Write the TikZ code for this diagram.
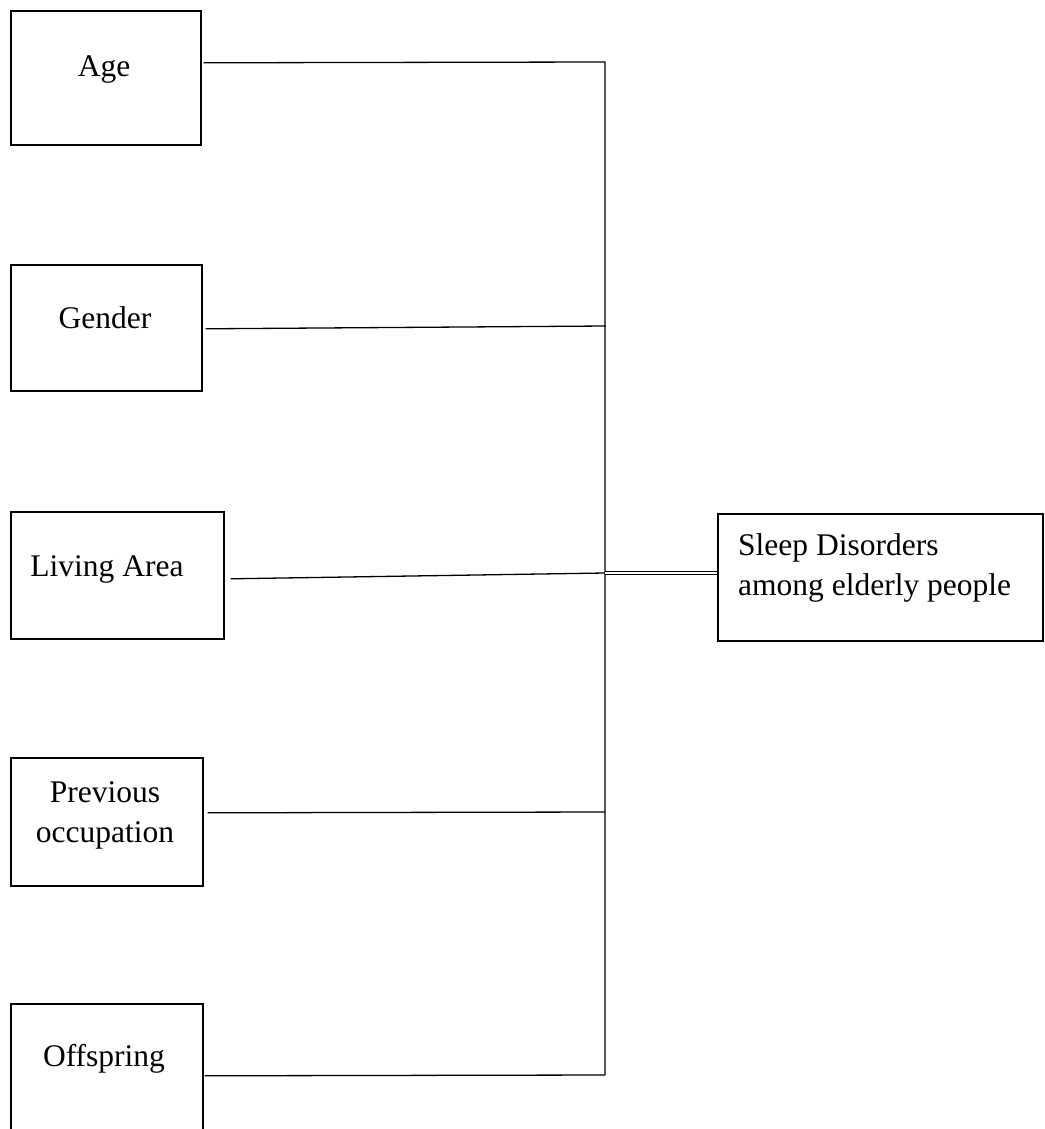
\documentclass[tikz,border=0pt]{standalone}
\usepackage{fontspec}
\setmainfont{Liberation Serif}
\usetikzlibrary{calc}
\begin{document}
\begin{tikzpicture}[x=1pt,y=-1pt,
  box/.style={draw,line width=1.6pt,rectangle,inner sep=0pt,anchor=north west},
  lbl/.style={font=\fontsize{31.5}{40}\selectfont,inner sep=0pt,anchor=base},
  conn/.style={line width=1.3pt}]
\useasboundingbox (0,0) rectangle (1044,1129);
% boxes
\node[box,minimum width=190pt,minimum height=134pt] (age) at (10,10) {};
\node[box,minimum width=191pt,minimum height=126pt] (gender) at (10,264) {};
\node[box,minimum width=213pt,minimum height=127pt] (living) at (10,511) {};
\node[box,minimum width=192pt,minimum height=128pt] (prev) at (10,757) {};
\node[box,minimum width=192pt,minimum height=140pt] (off) at (10,1003) {};
\node[box,minimum width=325pt,minimum height=127pt] (sleep) at (717,513) {};
% labels
\node[lbl] (tAge) at (104,77) {Age};
\node[lbl] (tGender) at (105,328) {Gender};
\node[lbl] (tLiving) at (107,576) {Living Area};
\node[lbl,align=center] (tPrev) at (105,842) {Previous\\occupation};
\node[lbl] (tOff) at (104,1066) {Offspring};
\node[lbl,align=left,anchor=base west] (tSleep) at (738,595) {Sleep Disorders\\among elderly people};
% junctions
\coordinate (jAge) at (605,62);
\coordinate (jGender) at (606,326);
\coordinate (jLiving) at (605,573);
\coordinate (jPrev) at (605,812);
\coordinate (jOff) at (605,1075);
% connectors
\draw[conn] ($(age.east)+(2,-15)$) -- (jAge) -- (jOff);
\draw[conn] ($(gender.east)+(3,1)$) -- (jGender);
\draw[conn] ($(living.east)+(6,3.5)$) -- (jLiving);
\draw[conn] ($(prev.east)+(4,-9)$) -- (jPrev);
\draw[conn] ($(off.east)+(1,2)$) -- (jOff);
\draw[conn,double,double distance=1.8pt,line width=0.9pt] (jLiving) -- (sleep.west |- jLiving);
\end{tikzpicture}
\end{document}
